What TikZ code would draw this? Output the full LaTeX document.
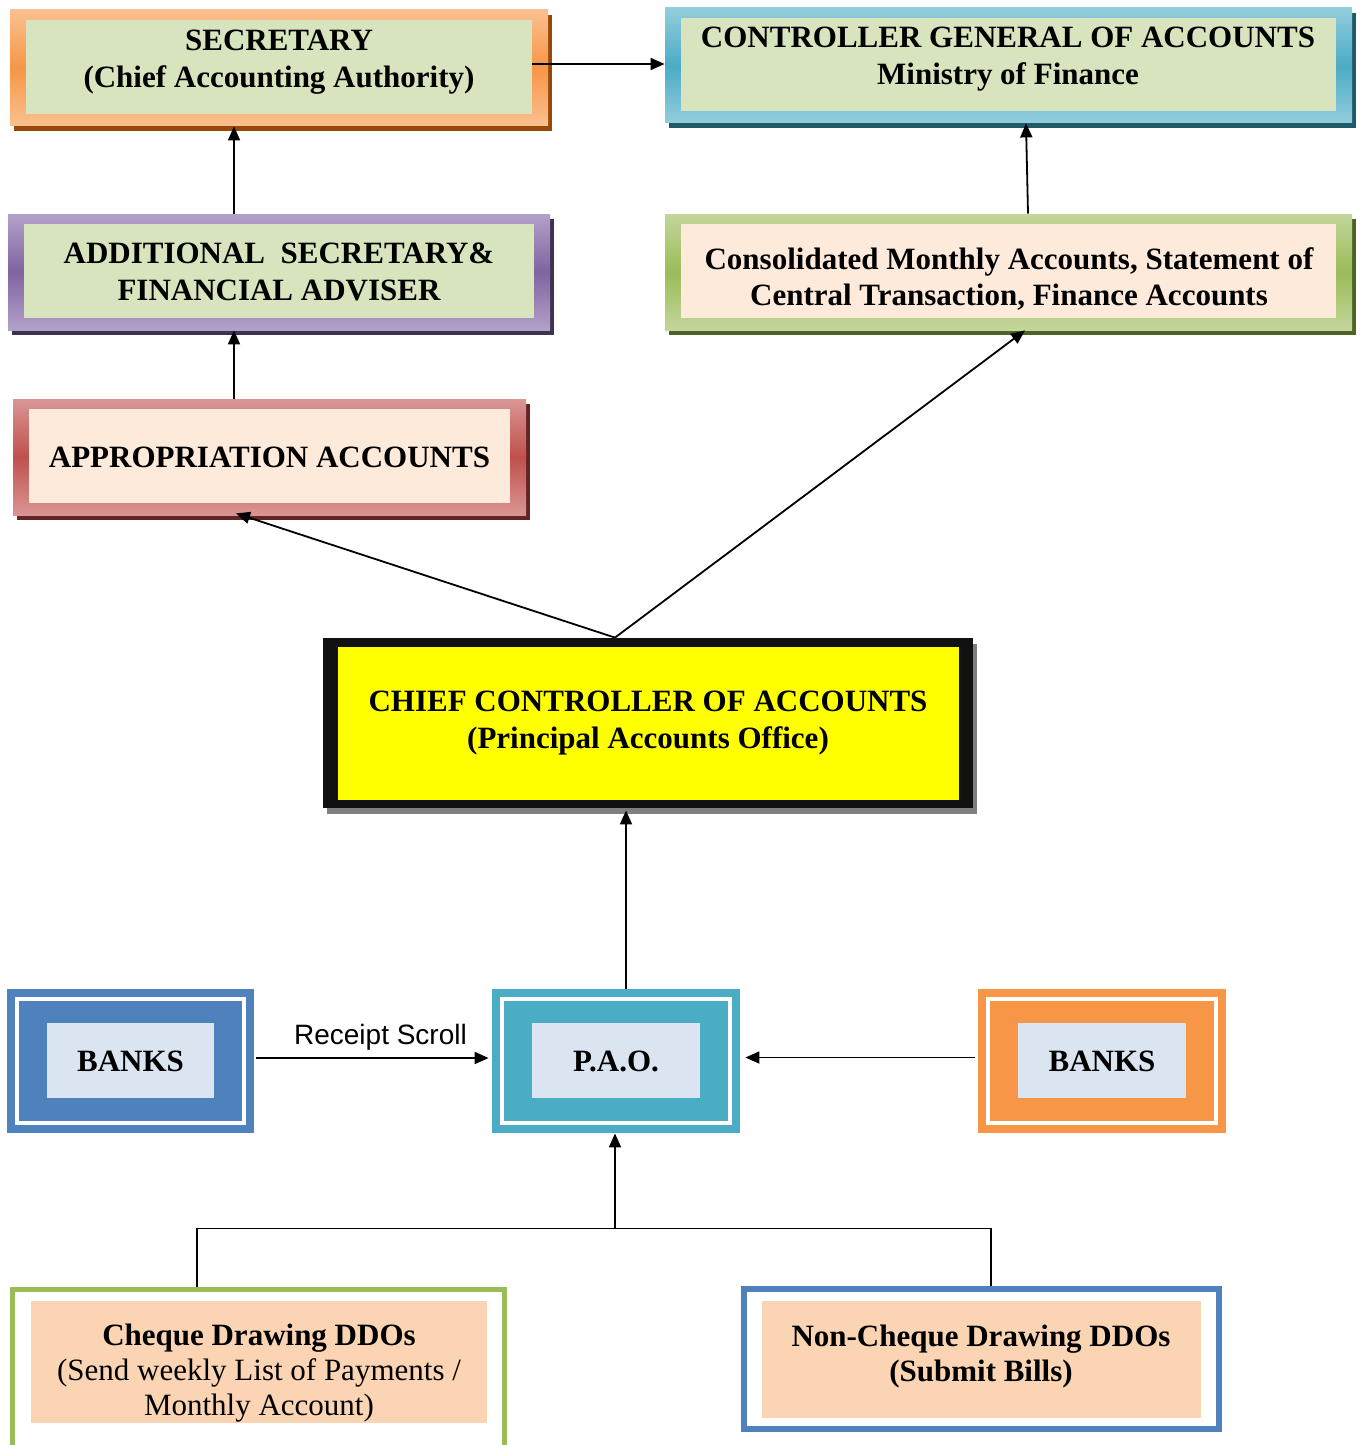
\documentclass[tikz,border=0pt]{standalone}
\usepackage{fontspec}
\setmainfont{Liberation Serif}
\setsansfont{Liberation Sans}
\usetikzlibrary{arrows.meta,calc,shadows}

\definecolor{orgL}{HTML}{FAC090}
\definecolor{orgM}{HTML}{F79646}
\definecolor{orgD}{HTML}{984807}
\definecolor{bluL}{HTML}{92CDDC}
\definecolor{bluM}{HTML}{4BACC6}
\definecolor{bluD}{HTML}{215968}
\definecolor{purL}{HTML}{B2A1C7}
\definecolor{purM}{HTML}{8064A2}
\definecolor{purD}{HTML}{3F3151}
\definecolor{grnL}{HTML}{C3D69B}
\definecolor{grnM}{HTML}{9BBB59}
\definecolor{grnD}{HTML}{4F6228}
\definecolor{redL}{HTML}{D99694}
\definecolor{redM}{HTML}{C0504D}
\definecolor{redD}{HTML}{632423}
\definecolor{greenin}{HTML}{D7E4BD}
\definecolor{peachin}{HTML}{FDEADA}
\definecolor{bankin}{HTML}{DBE5F1}
\definecolor{ddoin}{HTML}{FBD4B4}
\definecolor{bankblue}{HTML}{4F81BD}
\definecolor{paoteal}{HTML}{4BACC6}
\definecolor{bankorange}{HTML}{F79646}
\definecolor{ccablack}{HTML}{111111}
\definecolor{ccagray}{HTML}{7F7F7F}
\definecolor{ccayellow}{HTML}{FFFF00}

\newcommand\boxfont{\bfseries\fontsize{15.5}{18.2}\selectfont}
\newcommand\ddofont{\fontsize{15.5}{17.5}\selectfont}

\begin{document}
\begin{tikzpicture}[x=0.5pt,y=-0.5pt,
    acbox/.style n args={4}{inner sep=0pt, top color=#1, bottom color=#1, middle color=#2,
        drop shadow={shadow xshift=2pt,shadow yshift=-2.5pt,fill=#3,opacity=1},
        path picture={\fill[#4] ($(path picture bounding box.north west)+(16,10)$) rectangle ($(path picture bounding box.south east)+(-16,-12)$);}},
    bankbox/.style={inner sep=0pt, fill=#1, minimum width=124pt, minimum height=72pt, font=\boxfont,
        path picture={\draw[white,line width=1.75pt] ($(path picture bounding box.north west)+(10,10)$) rectangle ($(path picture bounding box.south east)+(-10,-10)$);
            \fill[bankin] ($(path picture bounding box.north west)+(40,34)$) rectangle ($(path picture bounding box.south east)+(-40,-35)$);}},
    ddobox/.style n args={3}{draw=#1, line width=#2, fill=white, inner sep=0pt,
        path picture={\fill[ddoin] ($(path picture bounding box.north west)+(18,12)$) rectangle ($(path picture bounding box.south east)+(-18,-#3)$);}},
    boxtext/.style={font=\boxfont, align=center},
    link/.style={-{Triangle[length=7pt,width=6pt]}, line width=0.9pt}]

    \useasboundingbox (0,0) rectangle (1364,1445);

    % Top row: secretary and CGA
    \node[acbox={orgL}{orgM}{orgD}{greenin}, minimum width=269pt, minimum height=58pt] (sec) at (279,68) {};
    \node[boxtext] (sectext) at (279,62) {SECRETARY\\(Chief Accounting Authority)};
    \node[acbox={bluL}{bluM}{bluD}{greenin}, minimum width=343.5pt, minimum height=57.5pt] (cga) at (1008.5,65.5) {};
    \node[boxtext] (cgatext) at (1008,59) {CONTROLLER GENERAL OF ACCOUNTS\\Ministry of Finance};

    % Second row
    \node[acbox={purL}{purM}{purD}{greenin}, boxtext, minimum width=271pt, minimum height=58pt] (addsec) at (279,272) {ADDITIONAL\ \ SECRETARY\&\\FINANCIAL ADVISER};
    \node[acbox={grnL}{grnM}{grnD}{peachin}, minimum width=343.5pt, minimum height=58pt] (cons) at (1008.5,272) {};
    \node[boxtext] (constext) at (1009,279) {Consolidated Monthly Accounts, Statement of\\Central Transaction, Finance Accounts};

    % Appropriation accounts
    \node[acbox={redL}{redM}{redD}{peachin}, boxtext, minimum width=256.5pt, minimum height=58pt] (appr) at (269.5,457) {APPROPRIATION ACCOUNTS};

    % Chief controller
    \node[boxtext, inner sep=0pt, fill=ccablack, minimum width=325pt, minimum height=85pt,
          drop shadow={shadow xshift=2pt,shadow yshift=-3pt,fill=ccagray,opacity=1},
          path picture={\fill[ccayellow] ($(path picture bounding box.north west)+(15,9)$) rectangle ($(path picture bounding box.south east)+(-14,-8)$);}]
          (cca) at (648,723) {CHIEF CONTROLLER OF ACCOUNTS\\(Principal Accounts Office)};

    % Banks and P.A.O.
    \node[bankbox=bankblue, minimum width=123.5pt] (bankl) at (130.5,1061) {BANKS};
    \node[bankbox=paoteal] (pao) at (616,1061) {P.A.O.};
    \node[bankbox=bankorange] (bankr) at (1102,1061) {BANKS};

    % DDOs
    \node[ddobox={grnM}{2.5pt}{26}, minimum width=246pt, minimum height=80pt] (chq) at (258.5,1369) {};
    \node[boxtext, font=\ddofont] (chqtext) at (259,1373) {\textbf{Cheque Drawing DDOs}\\(Send weekly List of Payments /\\Monthly Account)};
    \node[ddobox={bankblue}{3pt}{11}, minimum width=237.5pt, minimum height=70pt] (ncq) at (981.5,1359) {};
    \node[boxtext, font=\bfseries\ddofont] (ncqtext) at (981,1357) {Non-Cheque Drawing DDOs\\(Submit Bills)};

    % Upward links on the left
    \coordinate (leftup) at (234,0);
    \draw[link] (appr.north -| leftup) -- (addsec.south -| leftup);
    \draw[link] (addsec.north -| leftup) -- (sec.south -| leftup);
    \coordinate (secout) at ($(sec.east)+(-16,-4)$);
    \draw[link] (secout) -- (secout -| cga.west);
    \draw[link] ($(cons.north)+(19.5,0)$) -- ($(cga.south)+(17.5,0)$);

    % From the chief controller
    \coordinate (ccatop) at ($(cca.north)+(-33,0)$);
    \draw[link] (ccatop) -- ($(appr.south)+(-33.5,-2)$);
    \draw[link] (ccatop) -- ($(cons.south)+(16.5,0)$);
    \coordinate (paoup) at ($(pao.north)+(10,0)$);
    \draw[link, shorten >=1pt] (paoup) -- (paoup |- cca.south);

    % Banks into P.A.O.
    \draw[link] ($(bankl.east)+(2,-3)$) -- node[above, xshift=4pt, font=\sffamily\fontsize{14}{16}\selectfont] (scroll) {Receipt Scroll} ($(pao.west)+(-3,-3)$);
    \draw[link] ($(bankr.west)+(-3,-3.5)$) -- ($(pao.east)+(5,-3.5)$);

    % DDOs into P.A.O.
    \coordinate (join) at ($(pao.south)+(-1,95)$);
    \draw[line width=0.9pt] ($(chq.north)+(-61.5,0)$) |- (join) -| ($(ncq.north)+(9.5,0)$);
    \draw[link] (join) -- (join |- pao.south);

\end{tikzpicture}
\end{document}
